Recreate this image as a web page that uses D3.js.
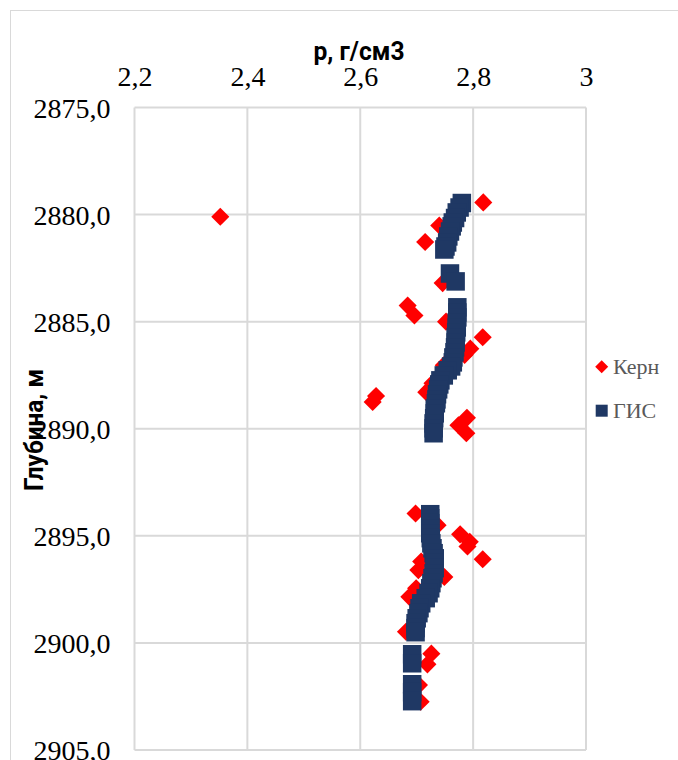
<!DOCTYPE html>
<html>
<head>
<meta charset="utf-8">
<script src="https://cdn.jsdelivr.net/npm/d3@7"></script>
<style>
  body { margin: 0; background: #fff; }
  svg { display: block; }
  .tick text { font-family: 'Liberation Serif', 'Times New Roman', serif; }
</style>
</head>
<body>
<svg id="chart" width="678" height="760"></svg>
<script>
// ---- data ----
const xTicks = [2.2, 2.4, 2.6, 2.8, 3.0];
const yTicks = [2875, 2880, 2885, 2890, 2895, 2900, 2905];

const kernDepth = [2880.10, 2879.43, 2880.51, 2881.28, 2883.20, 2884.25, 2884.71, 2885.00, 2885.73,
  2886.26, 2886.55, 2887.04, 2887.88, 2888.29, 2888.47, 2888.75, 2889.49, 2889.84, 2890.21,
  2893.96, 2894.50, 2894.93, 2895.28, 2895.50, 2896.09, 2896.20, 2896.60, 2896.92, 2897.45,
  2897.85, 2899.48, 2900.50, 2901.00, 2901.97, 2902.75];
const kernDensity = [2.352, 2.818, 2.740, 2.715, 2.746, 2.684, 2.696, 2.752, 2.817,
  2.795, 2.785, 2.748, 2.728, 2.717, 2.628, 2.622, 2.789, 2.774, 2.788,
  2.698, 2.737, 2.777, 2.794, 2.790, 2.817, 2.708, 2.703, 2.749, 2.699,
  2.687, 2.681, 2.726, 2.719, 2.704, 2.707];

const gisDepth = [2879.46, 2879.67, 2879.90, 2880.16, 2880.37, 2880.55, 2880.79, 2881.02, 2881.30,
  2881.49, 2881.63, 2882.75, 2883.12,
  2884.33, 2884.57, 2884.80, 2885.03, 2885.27, 2885.50, 2885.73, 2885.97, 2886.20, 2886.43,
  2886.67, 2886.90, 2887.09, 2887.27, 2887.51, 2887.74, 2887.93, 2888.16, 2888.39, 2888.63,
  2888.81, 2889.05, 2889.28, 2889.51, 2889.75, 2889.98, 2890.21,
  2893.99, 2894.18, 2894.41, 2894.65, 2894.88, 2895.11, 2895.35, 2895.58, 2895.81, 2896.05,
  2896.28, 2896.51, 2896.75, 2896.98, 2897.21, 2897.45, 2897.68, 2897.91, 2898.15, 2898.38,
  2898.61, 2898.85, 2899.08, 2899.31, 2899.50, 2900.53, 2900.95, 2901.93, 2902.30, 2902.72];
const gisDensity = [2.780, 2.776, 2.771, 2.768, 2.764, 2.762, 2.759, 2.756, 2.754,
  2.751, 2.749, 2.759, 2.769,
  2.772, 2.772, 2.772, 2.771, 2.771, 2.770, 2.769, 2.769, 2.768, 2.767,
  2.765, 2.764, 2.761, 2.755, 2.748, 2.742, 2.740, 2.738, 2.736, 2.735,
  2.734, 2.732, 2.732, 2.731, 2.730, 2.730, 2.730,
  2.724, 2.724, 2.724, 2.724, 2.724, 2.725, 2.726, 2.728, 2.730, 2.732,
  2.732, 2.732, 2.730, 2.728, 2.726, 2.724, 2.721, 2.716, 2.708, 2.705,
  2.703, 2.700, 2.698, 2.698, 2.698, 2.692, 2.692, 2.692, 2.692, 2.692];

const seriesNames = ["Керн", "ГИС"];
const xTitle = "р, г/см3";
const yTitle = "Глубина, м";

// ---- drawing ----
const svg = d3.select("#chart");
const RED = "#FF0000", NAVY = "#1F3864", GRID = "#d9d9d9";
const serif = "'Liberation Serif', 'Times New Roman', serif";
const sansBold = "'Liberation Sans Narrow', Roboto, 'Liberation Sans', Arial, sans-serif";

svg.append("rect").attr("width", 678).attr("height", 760).attr("fill", "#fff");
svg.append("rect").attr("x", 10.5).attr("y", 10.5).attr("width", 720).attr("height", 800)
  .attr("fill", "none").attr("stroke", GRID).attr("stroke-width", 1);

const x = d3.scaleLinear().domain([2.2, 3.0]).range([134.5, 586]);
const y = d3.scaleLinear().domain([2875, 2905]).range([107.5, 750]);
const fmt = v => d3.format(".1f")(v).replace(".", ",");
const fmtX = v => (Math.abs(v - Math.round(v)) < 1e-9 ? String(Math.round(v)) : d3.format(".1f")(v)).replace(".", ",");

// gridlines
const g = svg.append("g");
g.selectAll(".vg").data(xTicks).join("line")
  .attr("x1", d => x(d)).attr("x2", d => x(d))
  .attr("y1", y(2875)).attr("y2", y(2905))
  .attr("stroke", GRID).attr("stroke-width", 2);
g.selectAll(".hg").data(yTicks).join("line")
  .attr("x1", x(2.2)).attr("x2", x(3.0))
  .attr("y1", d => y(d)).attr("y2", d => y(d))
  .attr("stroke", GRID).attr("stroke-width", 2);

// axes via d3 (tick labels only)
const xAxis = d3.axisTop(x).tickValues(xTicks).tickFormat(fmtX).tickSize(0).tickPadding(0);
const xa = svg.append("g").attr("transform", `translate(0,${85.5})`).call(xAxis)
  .attr("font-family", serif).attr("font-size", 28);
xa.select(".domain").remove();
xa.selectAll("text").style("font-family", serif).attr("font-size", 28).attr("fill", "#000")
  .attr("dy", 0);

const yAxis = d3.axisLeft(y).tickValues(yTicks).tickFormat(fmt).tickSize(0).tickPadding(24);
const ya = svg.append("g").attr("transform", `translate(${134.5},0)`).call(yAxis)
  .attr("font-family", serif).attr("font-size", 28);
ya.select(".domain").remove();
ya.selectAll("text").style("font-family", serif).attr("font-size", 28).attr("fill", "#000")
  .attr("dy", "0.34em");

// titles
svg.append("text").attr("x", 359).attr("y", 59.5).attr("text-anchor", "middle")
  .attr("font-family", sansBold).attr("font-weight", "bold").attr("font-size", 25)
  .attr("textLength", 91).attr("lengthAdjust", "spacingAndGlyphs")
  .attr("fill", "#000").text(xTitle);
svg.append("text").attr("transform", "translate(43,430) rotate(-90)").attr("text-anchor", "middle")
  .attr("font-family", sansBold).attr("font-weight", "bold").attr("font-size", 25)
  .attr("textLength", 122).attr("lengthAdjust", "spacingAndGlyphs")
  .attr("fill", "#000").text(yTitle);

// Kern diamonds
const kern = kernDepth.map((d, i) => ({ d, v: kernDensity[i] }));
const dSide = 12.8;
svg.append("g").selectAll("rect").data(kern).join("rect")
  .attr("x", -dSide / 2).attr("y", -dSide / 2).attr("width", dSide).attr("height", dSide)
  .attr("transform", p => `translate(${x(p.v)},${y(p.d)}) rotate(45)`)
  .attr("fill", RED);

// GIS squares
const gis = gisDepth.map((d, i) => ({ d, v: gisDensity[i] }));
const sSide = 18.5;
svg.append("g").selectAll("rect").data(gis).join("rect")
  .attr("x", p => x(p.v) - sSide / 2).attr("y", p => y(p.d) - sSide / 2)
  .attr("width", sSide).attr("height", sSide)
  .attr("fill", NAVY);

// legend
const lg = svg.append("g");
const ly = [366.7, 410.7];
lg.append("rect").attr("x", -4.6).attr("y", -4.6).attr("width", 9.2).attr("height", 9.2)
  .attr("transform", `translate(601.7,${ly[0]}) rotate(45)`).attr("fill", RED);
lg.append("rect").attr("x", 601.7 - 6).attr("y", ly[1] - 6).attr("width", 12).attr("height", 12)
  .attr("fill", NAVY);
lg.selectAll("text").data(seriesNames).join("text")
  .attr("x", 613).attr("y", (d, i) => ly[i] + 7.5)
  .attr("font-family", serif).attr("font-size", 22).attr("fill", "#595959")
  .text(d => d);
</script>
</body>
</html>
